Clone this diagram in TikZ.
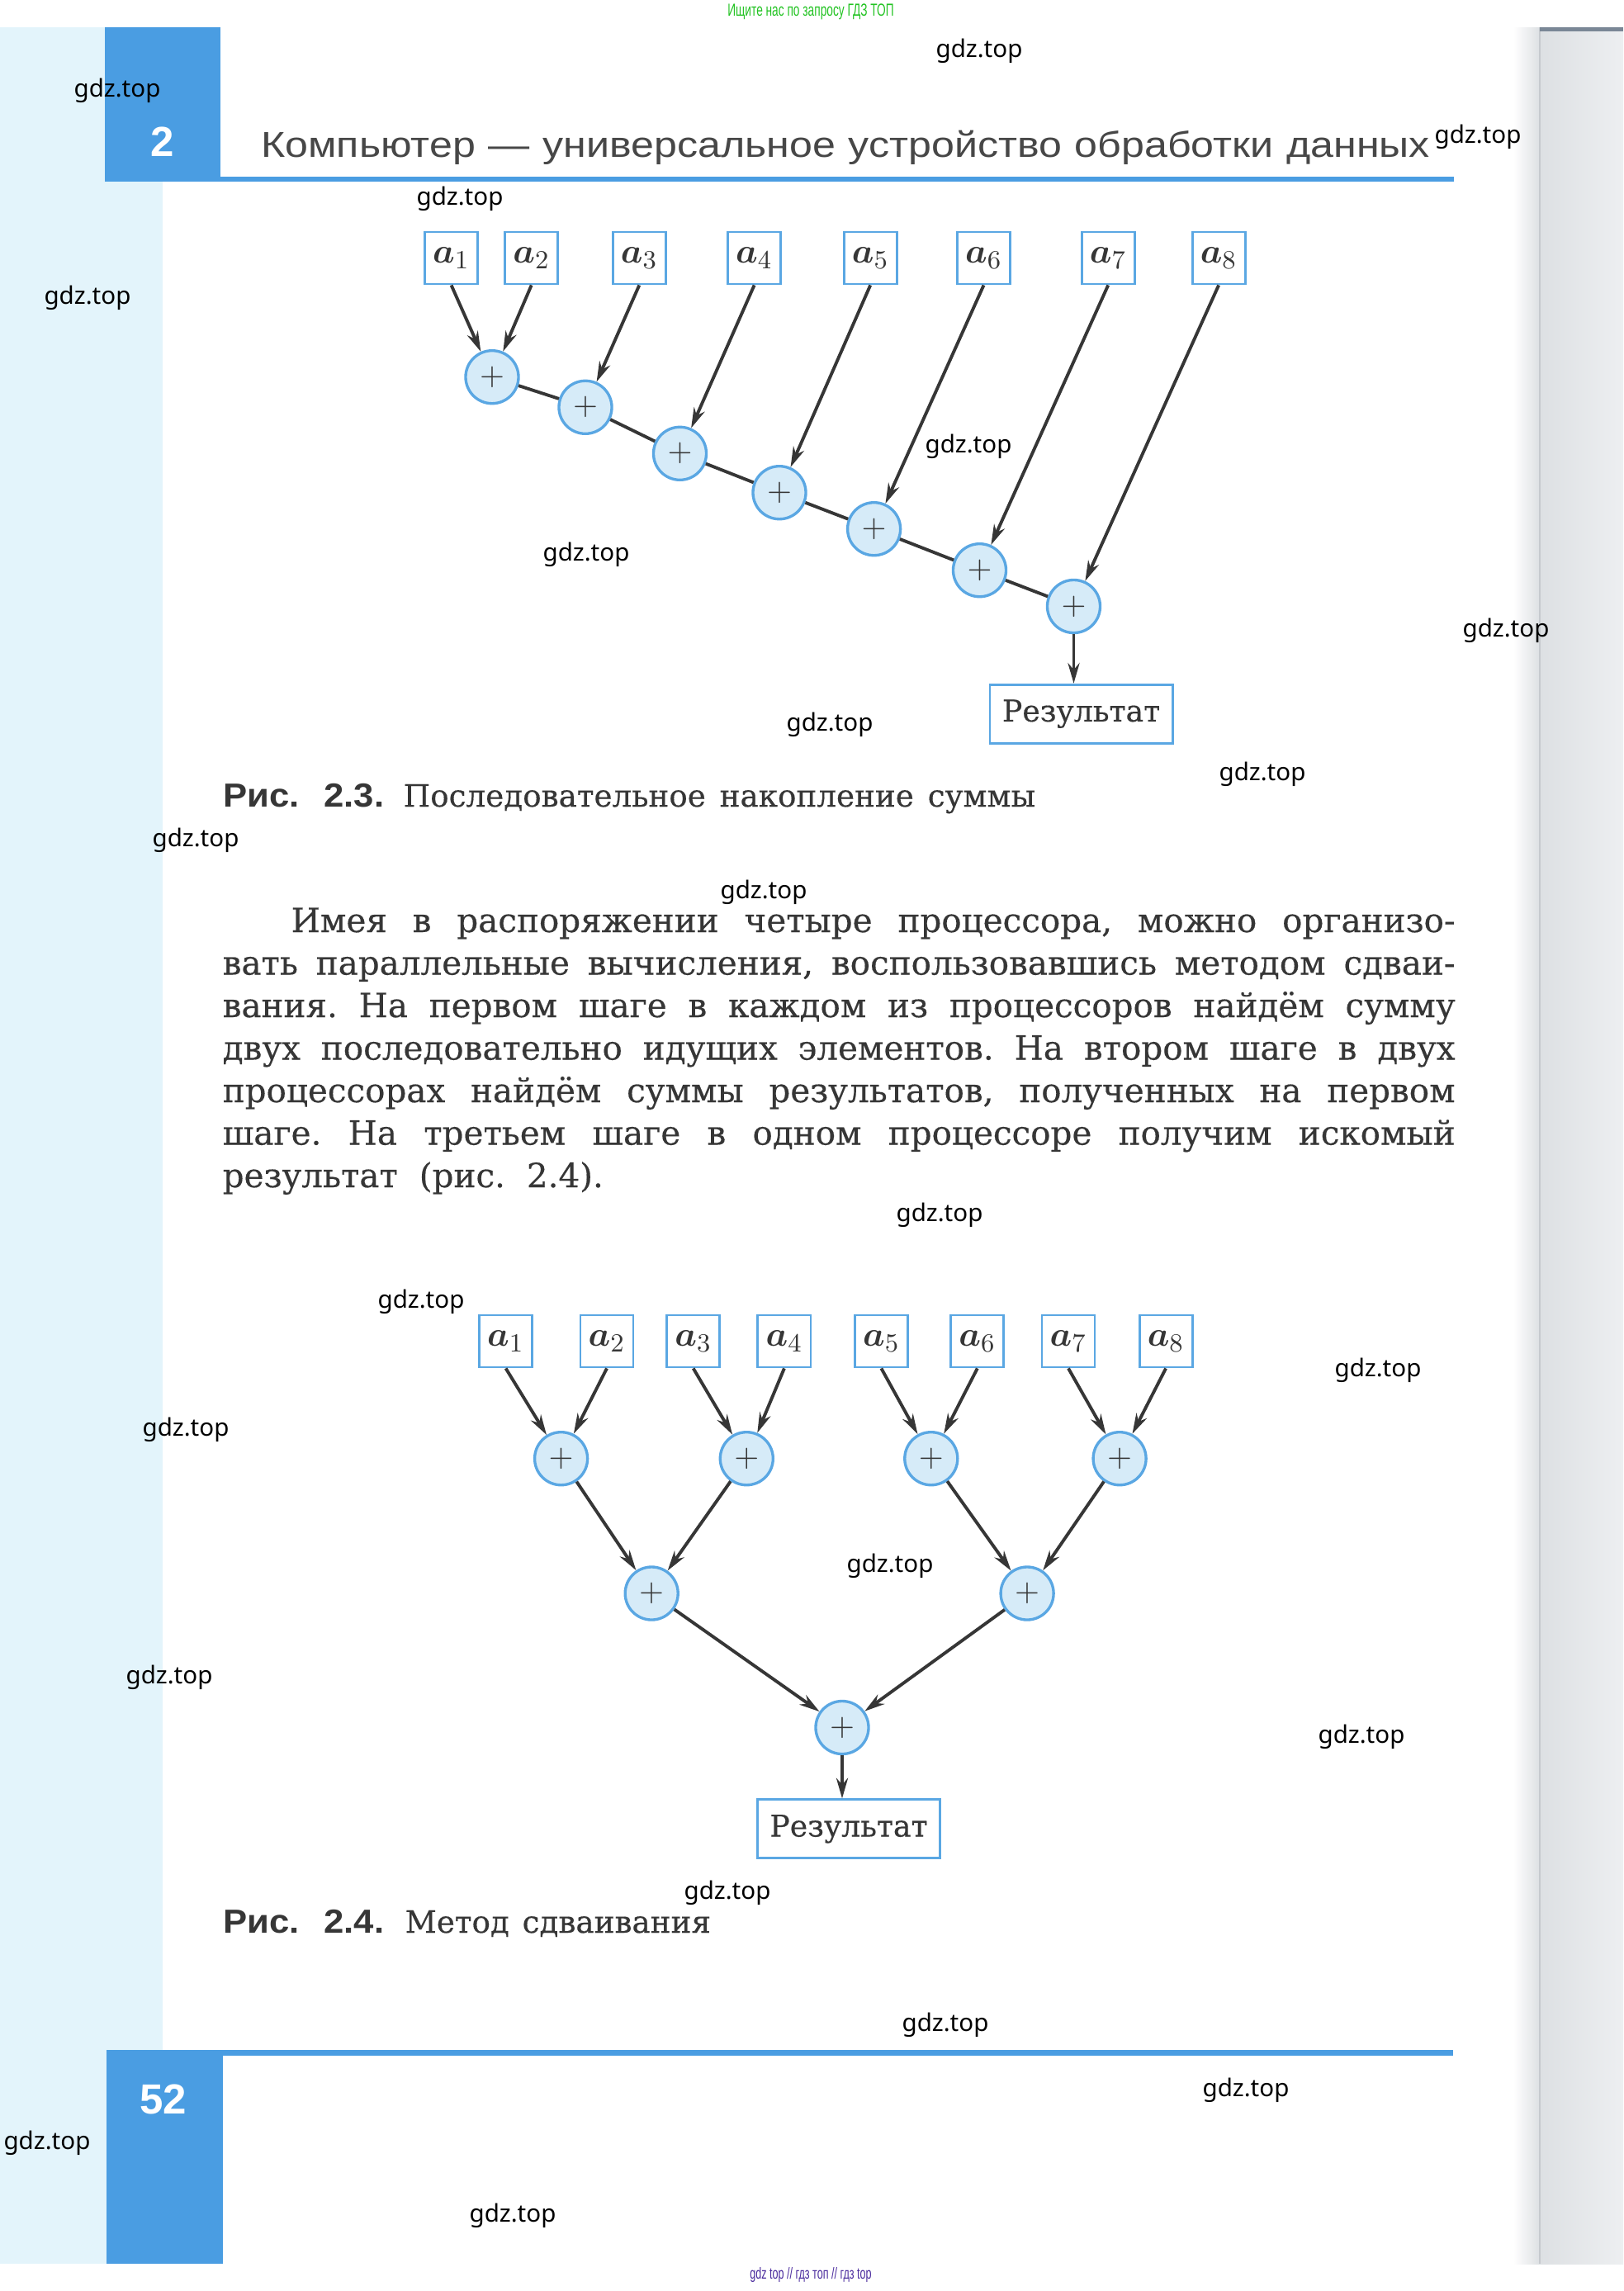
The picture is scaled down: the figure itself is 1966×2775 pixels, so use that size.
\documentclass[tikz,border=0pt]{standalone}
\usepackage[no-math]{fontspec}
\usepackage{bm}
\setmainfont[FakeBold=0.35]{DejaVu Serif}
\newfontfamily\wmfont{Noto Sans}
\newfontfamily\hdrfont[FakeStretch=1.15]{Liberation Sans}
\newfontfamily\numfont{Liberation Sans}
\newfontfamily\capfont[FakeStretch=1.08]{Liberation Sans}
\newfontfamily\tinyfont[FakeStretch=0.65]{Liberation Sans}
\usetikzlibrary{arrows.meta}
\frenchspacing
\definecolor{bandblue}{HTML}{4A9DE2}
\definecolor{edgeblue}{HTML}{5AA7E3}
\definecolor{circfill}{HTML}{D6EBF8}
\definecolor{arrowc}{HTML}{363636}
\definecolor{leftcyan}{HTML}{E3F4FB}
\definecolor{txt}{HTML}{363636}
\definecolor{hdrtxt}{HTML}{474747}
\definecolor{edgegray}{HTML}{DDE0E3}
\definecolor{edgegrayB}{HTML}{EDEFF1}
\definecolor{edgeline}{HTML}{C6CACE}
\definecolor{edgetop}{HTML}{7A8796}
\definecolor{topgreen}{HTML}{22C322}
\definecolor{botpurple}{HTML}{4B2C9E}
\begin{document}
\begin{tikzpicture}[x=0.01cm, y=-0.01cm,
  inbox/.style={draw=edgeblue, line width=0.8pt, fill=white, minimum width=0.64cm,
    minimum height=0.63cm, inner sep=0pt, text=txt, font=\fontsize{12.5}{13}\selectfont},
  sumnode/.style={circle, draw=edgeblue, line width=0.95pt, fill=circfill,
    minimum size=0.64cm, inner sep=0pt, text=txt, font=\fontsize{11}{12}\selectfont},
  resbox/.style={draw=edgeblue, line width=0.8pt, fill=white, minimum width=2.21cm,
    minimum height=0.71cm, inner sep=0pt, text=txt, font=\fontsize{10.3}{12}\selectfont},
  arr/.style={draw=arrowc, line width=1.1pt, -{Stealth[length=7pt, width=4pt]}},
  link/.style={draw=arrowc, line width=1.1pt},
  wm/.style={inner sep=0pt, text=black, font=\wmfont\fontsize{8.4}{10}\selectfont},
  para/.style={anchor=base west, inner sep=0pt, text=txt, font=\fontsize{11.5}{13}\selectfont},
  capsans/.style={anchor=base west, inner sep=0pt, text=txt, font=\capfont\bfseries\fontsize{11.5}{13}\selectfont},
  capserif/.style={anchor=base west, inner sep=0pt, text=txt, font=\fontsize{10.6}{12}\selectfont},
]
\useasboundingbox (0,0) rectangle (1966,2775);
% page background
\fill[white] (0,0) rectangle (1966,2775);
\fill[leftcyan] (0,33) rectangle (197,2742);
\fill[bandblue] (127,33) rectangle (267,220);
\fill[bandblue] (129,2483) rectangle (270,2742);
\fill[bandblue] (267,214) rectangle (1761,220);
\fill[bandblue] (270,2483) rectangle (1760,2490);
\shade[left color=white, right color=edgegray] (1833,33) rectangle (1865,2742);
\shade[left color=edgegray, right color=edgegrayB] (1865,33) rectangle (1966,2742);
\draw[edgeline, line width=0.6pt] (1865,33) -- (1865,2742);
\fill[edgetop] (1865,33) rectangle (1966,38);

% header
\node[text=white, font=\numfont\bfseries\fontsize{14.5}{16}\selectfont, inner sep=0pt] (chap) at (197,172) {2};
\node[anchor=base west, inner sep=0pt, text=hdrtxt, font=\hdrfont\fontsize{12.4}{13}\selectfont] (hdr) at (315.6,190)
  {\makebox[14.15cm][s]{Компьютер — универсальное устройство обработки данных}};
\node[text=white, font=\numfont\bfseries\fontsize{14.5}{16}\selectfont, inner sep=0pt] (page) at (198,2543) {52};

% small service texts
\node[text=topgreen, font=\tinyfont\fontsize{6}{7}\selectfont, inner sep=0pt] (topnote) at (982,14) {Ищите нас по запросу ГДЗ ТОП};
\node[text=botpurple, font=\tinyfont\fontsize{5.5}{7}\selectfont, inner sep=0pt] (botnote) at (982,2755) {gdz top // гдз топ // гдз top};

% ---------- Figure 2.3 ----------
\foreach \x [count=\i] in {546.6,643.7,774.3,913.6,1054.2,1191.5,1342.2,1476.1}
  \node[inbox] (b\i) at (\x,312.5) {$\bm{a}_{\i}$};
\node[sumnode] (s1) at (596,456.7) {$+$};
\node[sumnode] (s2) at (709,493.3) {$+$};
\node[sumnode] (s3) at (823.5,549.3) {$+$};
\node[sumnode] (s4) at (944,596.7) {$+$};
\node[sumnode] (s5) at (1058.6,640.7) {$+$};
\node[sumnode] (s6) at (1186.5,690.7) {$+$};
\node[sumnode] (s7) at (1300.5,734.5) {$+$};
\node[resbox] (res1) at (1309.6,864.7) {Результат};
\draw[arr] (b1.south) -- (s1);
\draw[arr] (b2.south) -- (s1);
\draw[arr] (b3.south) -- (s2);
\draw[arr] (b4.south) -- (s3);
\draw[arr] (b5.south) -- (s4);
\draw[arr] (b6.south) -- (s5);
\draw[arr] (b7.south) -- (s6);
\draw[arr] (b8.south) -- (s7);
\draw[link] (s1) -- (s2);
\draw[link] (s2) -- (s3);
\draw[link] (s3) -- (s4);
\draw[link] (s4) -- (s5);
\draw[link] (s5) -- (s6);
\draw[link] (s6) -- (s7);
\draw[arr] (s7) -- (s7 |- res1.north);

\node[capsans] (cap3a) at (269.5,977) {\makebox[1.95cm][s]{Рис. 2.3.}};
\node[capserif] (cap3b) at (488,977) {\makebox[7.65cm][s]{Последовательное накопление суммы}};

% ---------- paragraph ----------
\node[para] (p1) at (352,1129) {\makebox[14.09cm][s]{Имея в распоряжении четыре процессора, можно организо-}};
\node[para] (p2) at (269,1180.5) {\makebox[14.92cm][s]{вать параллельные вычисления, воспользовавшись методом сдваи-}};
\node[para] (p3) at (269,1232) {\makebox[14.92cm][s]{вания. На первом шаге в каждом из процессоров найдём сумму}};
\node[para] (p4) at (269,1283.5) {\makebox[14.92cm][s]{двух последовательно идущих элементов. На втором шаге в двух}};
\node[para] (p5) at (269,1335) {\makebox[14.92cm][s]{процессорах найдём суммы результатов, полученных на первом}};
\node[para] (p6) at (269,1386.5) {\makebox[14.92cm][s]{шаге. На третьем шаге в одном процессоре получим искомый}};
\node[para] (p7) at (269,1438) {\makebox[4.61cm][s]{результат (рис. 2.4).}};

% ---------- Figure 2.4 ----------
\foreach \x [count=\i] in {612.6,735,839.7,949.9,1067.4,1183.8,1294,1412.1}
  \node[inbox] (c\i) at (\x,1624.5) {$\bm{a}_{\i}$};
\node[sumnode] (u1) at (679.6,1766.7) {$+$};
\node[sumnode] (u2) at (904.3,1766.7) {$+$};
\node[sumnode] (u3) at (1127.8,1766.7) {$+$};
\node[sumnode] (u4) at (1356.1,1766.7) {$+$};
\node[sumnode] (v1) at (789.2,1930) {$+$};
\node[sumnode] (v2) at (1244.1,1930) {$+$};
\node[sumnode] (w1) at (1020,2092.5) {$+$};
\node[resbox] (res2) at (1028,2215.3) {Результат};
\draw[arr] (c1.south) -- (u1);
\draw[arr] (c2.south) -- (u1);
\draw[arr] (c3.south) -- (u2);
\draw[arr] (c4.south) -- (u2);
\draw[arr] (c5.south) -- (u3);
\draw[arr] (c6.south) -- (u3);
\draw[arr] (c7.south) -- (u4);
\draw[arr] (c8.south) -- (u4);
\draw[arr] (u1) -- (v1);
\draw[arr] (u2) -- (v1);
\draw[arr] (u3) -- (v2);
\draw[arr] (u4) -- (v2);
\draw[arr] (v1) -- (w1);
\draw[arr] (v2) -- (w1);
\draw[arr] (w1) -- (w1 |- res2.north);

\node[capsans] (cap4a) at (269.5,2341) {\makebox[1.95cm][s]{Рис. 2.4.}};
\node[capserif] (cap4b) at (490,2341) {\makebox[3.7cm][s]{Метод сдваивания}};

% ---------- watermarks ----------
\foreach \x/\y [count=\i] in {1186/62, 142/110, 1790/166, 557/241, 106/361, 1173/541,
   710/672, 1824/764, 1005/878, 1529/938, 237/1018, 925/1081, 1138/1472, 510/1577,
   1669/1660, 225/1732, 1078/1897, 205/2032, 1649/2104, 881/2293, 1145/2453,
   1509/2532, 57/2596, 621/2684}
  \node[wm] (gdz\i) at (\x,\y) {gdz.top};
\end{tikzpicture}
\end{document}
